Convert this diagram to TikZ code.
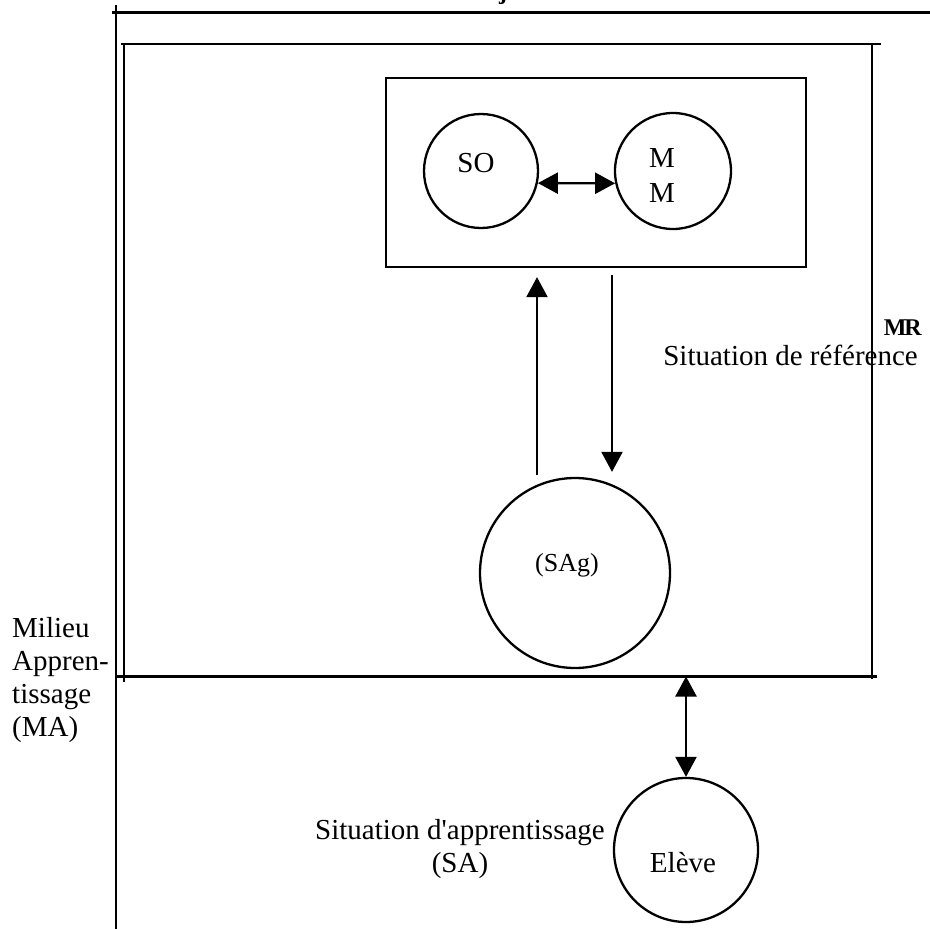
\documentclass[tikz,border=0pt]{standalone}
\usepackage{fontspec}
\setmainfont{Liberation Serif}[Ligatures=TeXOff]
\usetikzlibrary{arrows.meta}
\begin{document}
\begin{tikzpicture}[x=1pt,y=-1pt,
  frame/.style={line width=2.3pt},
  ring/.style={circle,draw,line width=2.3pt,inner sep=0pt},
  link/.style={line width=2.3pt},
  head/.tip={Triangle[length=20pt,width=21pt]},
  lbl/.style={font=\fontsize{29}{33}\selectfont,inner sep=0pt},
  small/.style={font=\fontsize{26}{30}\selectfont,inner sep=0pt}]
\useasboundingbox (0,0) rectangle (930,929);
\clip (0,0) rectangle (930,929);

% heading, only its lowest part falls inside the page
\node[font=\bfseries\fontsize{24}{24}\selectfont,inner sep=0pt,anchor=base] (heading) at (503,-1) {j};

% outer corner of the learning milieu
\draw[frame] (116,5) -- (116,929);
\draw[frame] (112,12.5) -- (930,12.5);

% reference milieu frame
\draw[frame] (121,44) -- (881,44);
\draw[frame] (123.7,44) -- (123.7,682);
\draw[frame] (872.3,44) -- (872.3,679);
\draw[frame] (116,676.5) -- (877,676.5);
\coordinate (floor) at (0,676.5);

% objective situation box
\node[draw,frame,minimum width=420pt,minimum height=189pt,inner sep=0pt] (box) at (596,172.5) {};
\node[ring,minimum size=114pt] (so) at (481,171) {};
\node[ring,minimum size=116pt] (mm) at (673,171) {};
\node[lbl,anchor=base] (sotext) at (476,172) {SO};
\node[lbl,anchor=base,align=center,font=\fontsize{29}{35}\selectfont] (mmtext) at (662,202) {M\\M};
\draw[link,head-head] (so.-12) -- (mm.192);

% action situation
\node[ring,minimum size=190pt] (sag) at (575,573) {};
\node[small,anchor=base] (sagtext) at (567,571) {(SAg)};

\coordinate (upfoot) at (537,475);
\coordinate (dnx) at (612,0);
\draw[link,-head] (upfoot) -- ([yshift=-9pt]upfoot |- box.south);
\draw[link,-head] ([yshift=-7pt]box.south -| dnx) -- ([yshift=5pt]dnx |- sag.north);

% labels of the reference situation
\node[font=\bfseries\fontsize{24}{24}\selectfont,inner sep=0pt,anchor=base east] (mr) at (922,335) {M\kern-2pt R};
\node[lbl,anchor=base east] (ref) at (918,365) {Situation de référence};

% learning milieu label (base anchor sits on the last line)
\node[lbl,anchor=base west,align=left] (ma) at (12,736) {Milieu\\Appren-\\tissage\\(MA)};

% pupil
\node[ring,minimum size=144pt] (eleve) at (686,850) {};
\node[lbl,anchor=base] (elevetext) at (683,872) {Elève};
\draw[link,head-head] (eleve.north) -- (eleve.north |- floor);
\node[lbl,anchor=base,align=center] (sa) at (460,872) {Situation d'apprentissage\\(SA)};
\end{tikzpicture}
\end{document}
